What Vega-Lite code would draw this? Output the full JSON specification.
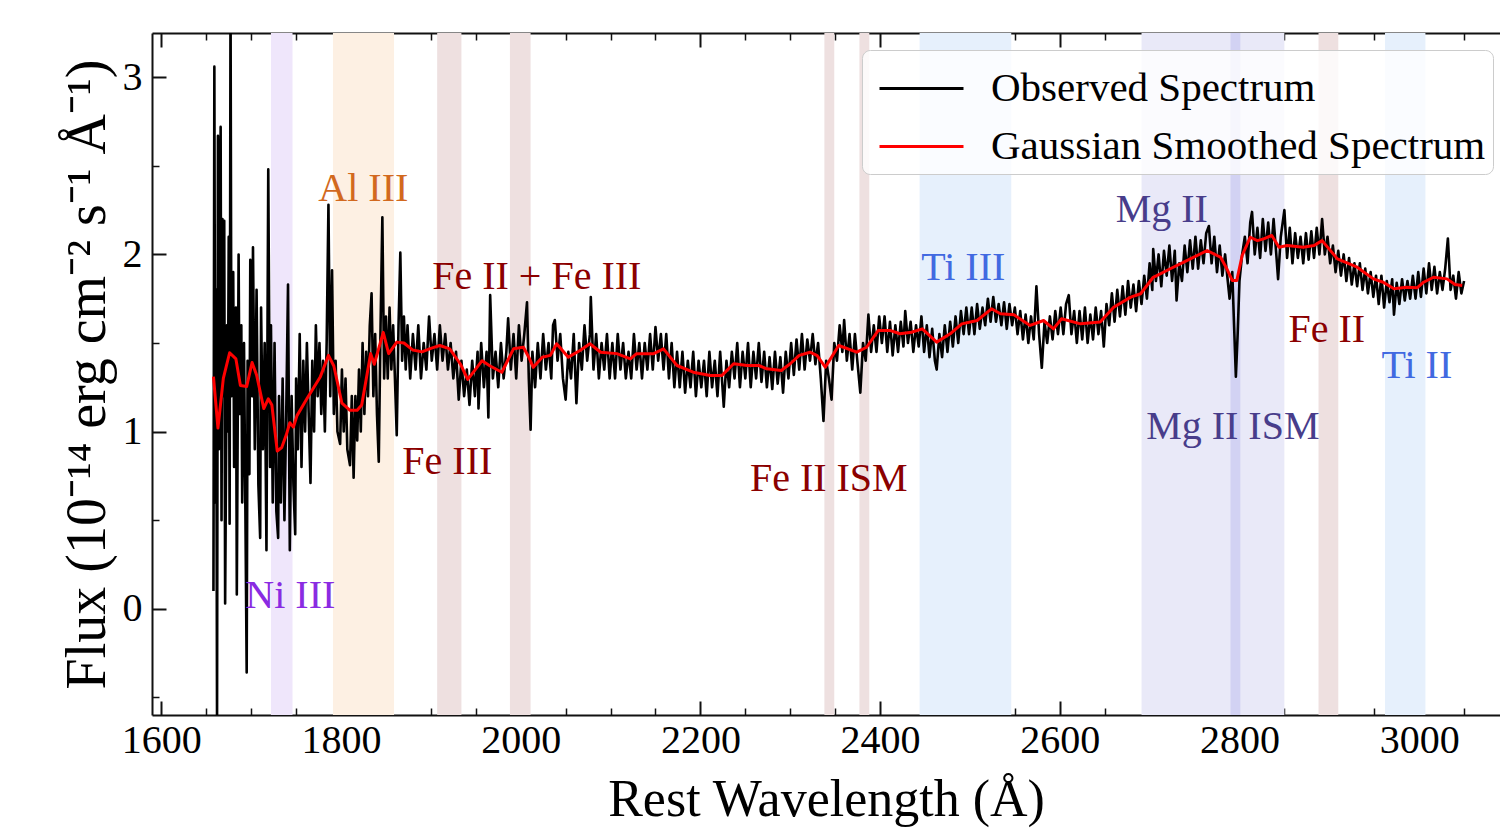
{
  "$schema": "https://vega.github.io/schema/vega-lite/v6.json",
  "width": 1348,
  "height": 682,
  "autosize": {"type": "none"},
  "padding": {"left": 152, "top": 33, "right": 0, "bottom": 116},
  "background": "white",
  "config": {
    "view": {"stroke": null},
    "font": "Liberation Serif",
    "axis": {"grid": false, "labelFont": "Liberation Serif", "titleFont": "Liberation Serif", "labelColor": "black", "titleColor": "black", "tickColor": "#111111", "domainColor": "#111111", "titleFontWeight": "normal"}
  },
  "datasets": {
    "bands": [
      {"line": "Ni III", "start": 1722, "end": 1746, "group": "Ni"},
      {"line": "Al III", "start": 1791, "end": 1859, "group": "Al"},
      {"line": "Fe III", "start": 1907, "end": 1934, "group": "Fe"},
      {"line": "Fe II + Fe III", "start": 1988, "end": 2011, "group": "Fe"},
      {"line": "Fe II ISM a", "start": 2338, "end": 2349, "group": "Fe"},
      {"line": "Fe II ISM b", "start": 2377, "end": 2388, "group": "Fe"},
      {"line": "Ti III", "start": 2444, "end": 2546, "group": "Ti"},
      {"line": "Mg II", "start": 2691, "end": 2850, "group": "Mg"},
      {"line": "Mg II ISM", "start": 2790, "end": 2801, "group": "MgISM"},
      {"line": "Fe II", "start": 2888, "end": 2910, "group": "Fe"},
      {"line": "Ti II", "start": 2962, "end": 3007, "group": "Ti"}
    ],
    "labels": [
      {"label": "Al III", "w": 1824.8, "f": 2.372, "group": "Al"},
      {"label": "Ni III", "w": 1743.6, "f": 0.069, "group": "Ni"},
      {"label": "Fe III", "w": 1918.3, "f": 0.826, "group": "Fe"},
      {"label": "Fe II + Fe III", "w": 2017.9, "f": 1.87, "group": "Fe"},
      {"label": "Fe II ISM", "w": 2342.9, "f": 0.73, "group": "Fe"},
      {"label": "Ti III", "w": 2492.6, "f": 1.923, "group": "Ti"},
      {"label": "Mg II", "w": 2713.6, "f": 2.253, "group": "Mg"},
      {"label": "Mg II ISM", "w": 2792.6, "f": 1.025, "group": "Mg"},
      {"label": "Fe II", "w": 2897.2, "f": 1.571, "group": "Fe"},
      {"label": "Ti II", "w": 2997.4, "f": 1.37, "group": "Ti"}
    ],
    "smooth": [
      {"w":1658,"f":1.31},{"w":1663,"f":1.02},{"w":1669,"f":1.3},{"w":1676,"f":1.445},{"w":1683,"f":1.41},{"w":1688,"f":1.26},{"w":1695,"f":1.255},{"w":1701,"f":1.39},{"w":1706,"f":1.32},{"w":1714,"f":1.13},{"w":1719,"f":1.185},{"w":1723,"f":1.15},{"w":1729,"f":0.89},{"w":1734,"f":0.91},{"w":1739,"f":0.98},{"w":1743,"f":1.05},{"w":1747,"f":1.025},{"w":1751,"f":1.09},{"w":1762,"f":1.185},{"w":1777,"f":1.31},{"w":1786,"f":1.43},{"w":1792,"f":1.37},{"w":1801,"f":1.16},{"w":1810,"f":1.12},{"w":1818,"f":1.12},{"w":1823,"f":1.15},{"w":1833,"f":1.44},{"w":1837,"f":1.38},{"w":1847,"f":1.56},{"w":1853,"f":1.44},{"w":1862,"f":1.505},{"w":1870,"f":1.5},{"w":1880,"f":1.46},{"w":1890,"f":1.45},{"w":1900,"f":1.47},{"w":1910,"f":1.486},{"w":1921,"f":1.467},{"w":1933,"f":1.38},{"w":1941,"f":1.295},{"w":1948,"f":1.34},{"w":1957,"f":1.4},{"w":1966,"f":1.37},{"w":1979,"f":1.335},{"w":1992,"f":1.467},{"w":2003,"f":1.476},{"w":2009,"f":1.42},{"w":2014,"f":1.363},{"w":2024,"f":1.42},{"w":2033,"f":1.43},{"w":2040,"f":1.496},{"w":2053,"f":1.42},{"w":2066,"f":1.458},{"w":2077,"f":1.496},{"w":2089,"f":1.448},{"w":2107,"f":1.44},{"w":2122,"f":1.41},{"w":2129,"f":1.44},{"w":2148,"f":1.44},{"w":2159,"f":1.467},{"w":2174,"f":1.373},{"w":2192,"f":1.335},{"w":2211,"f":1.317},{"w":2224,"f":1.317},{"w":2237,"f":1.383},{"w":2252,"f":1.373},{"w":2265,"f":1.373},{"w":2274,"f":1.354},{"w":2290,"f":1.345},{"w":2300,"f":1.383},{"w":2310,"f":1.43},{"w":2322,"f":1.448},{"w":2330,"f":1.429},{"w":2339,"f":1.363},{"w":2354,"f":1.486},{"w":2374,"f":1.448},{"w":2385,"f":1.476},{"w":2398,"f":1.571},{"w":2411,"f":1.571},{"w":2422,"f":1.552},{"w":2435,"f":1.561},{"w":2447,"f":1.58},{"w":2463,"f":1.505},{"w":2478,"f":1.552},{"w":2491,"f":1.608},{"w":2508,"f":1.627},{"w":2524,"f":1.693},{"w":2534,"f":1.665},{"w":2549,"f":1.659},{"w":2567,"f":1.599},{"w":2582,"f":1.627},{"w":2593,"f":1.58},{"w":2602,"f":1.637},{"w":2623,"f":1.608},{"w":2645,"f":1.618},{"w":2660,"f":1.702},{"w":2679,"f":1.759},{"w":2690,"f":1.778},{"w":2704,"f":1.871},{"w":2708,"f":1.88},{"w":2723,"f":1.919},{"w":2738,"f":1.956},{"w":2764,"f":2.022},{"w":2779,"f":1.984},{"w":2786,"f":1.919},{"w":2792,"f":1.853},{"w":2797,"f":1.853},{"w":2803,"f":1.994},{"w":2812,"f":2.097},{"w":2820,"f":2.078},{"w":2827,"f":2.088},{"w":2836,"f":2.107},{"w":2844,"f":2.041},{"w":2853,"f":2.05},{"w":2871,"f":2.041},{"w":2883,"f":2.05},{"w":2892,"f":2.078},{"w":2909,"f":1.975},{"w":2931,"f":1.928},{"w":2949,"f":1.862},{"w":2960,"f":1.843},{"w":2972,"f":1.806},{"w":2986,"f":1.815},{"w":2998,"f":1.812},{"w":3005,"f":1.843},{"w":3016,"f":1.871},{"w":3031,"f":1.862},{"w":3040,"f":1.83},{"w":3048,"f":1.825}
    ],
    "observed": [
      {"w":1658,"f":0.1},{"w":1659,"f":3.06},{"w":1660,"f":0.6},{"w":1661,"f":1.8},{"w":1662,"f":-0.65},{"w":1663,"f":2.67},{"w":1664,"f":0.9},{"w":1666,"f":2.72},{"w":1667,"f":0.5},{"w":1668,"f":2.2},{"w":1669,"f":1.2},{"w":1670,"f":2.19},{"w":1671,"f":0.03},{"w":1673,"f":1.6},{"w":1674,"f":1.0},{"w":1675,"f":2.1},{"w":1676,"f":0.48},{"w":1677,"f":3.5},{"w":1678,"f":1.2},{"w":1680,"f":1.9},{"w":1681,"f":0.8},{"w":1683,"f":1.7},{"w":1684,"f":0.08},{"w":1686,"f":2.0},{"w":1687,"f":1.1},{"w":1689,"f":1.6},{"w":1690,"f":0.6},{"w":1692,"f":1.5},{"w":1693,"f":0.9},{"w":1695,"f":-0.36},{"w":1696,"f":1.4},{"w":1698,"f":0.76},{"w":1699,"f":1.97},{"w":1701,"f":1.2},{"w":1702,"f":2.04},{"w":1704,"f":0.9},{"w":1706,"f":1.8},{"w":1708,"f":0.7},{"w":1710,"f":0.4},{"w":1711,"f":1.7},{"w":1713,"f":0.9},{"w":1715,"f":1.5},{"w":1717,"f":0.33},{"w":1719,"f":2.48},{"w":1721,"f":0.8},{"w":1722,"f":1.6},{"w":1724,"f":0.6},{"w":1726,"f":1.5},{"w":1728,"f":0.55},{"w":1730,"f":0.4},{"w":1731,"f":1.2},{"w":1733,"f":0.6},{"w":1735,"f":1.3},{"w":1737,"f":0.5},{"w":1739,"f":1.1},{"w":1741,"f":1.83},{"w":1743,"f":0.33},{"w":1745,"f":1.2},{"w":1747,"f":0.7},{"w":1749,"f":0.42},{"w":1750,"f":1.3},{"w":1752,"f":0.9},{"w":1754,"f":1.55},{"w":1756,"f":0.8},{"w":1758,"f":1.4},{"w":1760,"f":1.0},{"w":1762,"f":1.5},{"w":1764,"f":1.1},{"w":1766,"f":0.71},{"w":1768,"f":1.4},{"w":1770,"f":1.0},{"w":1772,"f":1.6},{"w":1774,"f":1.2},{"w":1776,"f":1.5},{"w":1778,"f":1.1},{"w":1780,"f":1.4},{"w":1782,"f":1.0},{"w":1784,"f":1.5},{"w":1786,"f":2.28},{"w":1788,"f":1.2},{"w":1790,"f":1.91},{"w":1792,"f":1.1},{"w":1794,"f":1.4},{"w":1796,"f":1.0},{"w":1799,"f":0.93},{"w":1801,"f":1.35},{"w":1803,"f":1.0},{"w":1805,"f":1.3},{"w":1807,"f":0.9},{"w":1810,"f":0.81},{"w":1812,"f":1.2},{"w":1814,"f":0.74},{"w":1816,"f":1.2},{"w":1818,"f":0.95},{"w":1820,"f":1.35},{"w":1822,"f":1.0},{"w":1824,"f":1.5},{"w":1826,"f":1.1},{"w":1828,"f":1.45},{"w":1830,"f":1.2},{"w":1832,"f":1.6},{"w":1834,"f":1.78},{"w":1836,"f":1.2},{"w":1838,"f":1.55},{"w":1840,"f":1.1},{"w":1842,"f":0.83},{"w":1844,"f":1.6},{"w":1846,"f":2.21},{"w":1848,"f":1.3},{"w":1850,"f":1.65},{"w":1852,"f":1.3},{"w":1854,"f":1.7},{"w":1856,"f":1.35},{"w":1858,"f":1.6},{"w":1860,"f":1.3},{"w":1862,"f":0.98},{"w":1864,"f":1.6},{"w":1866,"f":2.01},{"w":1868,"f":1.4},{"w":1870,"f":1.65},{"w":1872,"f":1.35},{"w":1874,"f":1.6},{"w":1877,"f":1.3},{"w":1880,"f":1.55},{"w":1883,"f":1.35},{"w":1886,"f":1.6},{"w":1889,"f":1.3},{"w":1892,"f":1.5},{"w":1895,"f":1.35},{"w":1898,"f":1.65},{"w":1901,"f":1.4},{"w":1904,"f":1.55},{"w":1907,"f":1.35},{"w":1910,"f":1.6},{"w":1913,"f":1.4},{"w":1916,"f":1.55},{"w":1919,"f":1.35},{"w":1922,"f":1.5},{"w":1925,"f":1.3},{"w":1928,"f":1.45},{"w":1931,"f":1.18},{"w":1934,"f":1.4},{"w":1937,"f":1.2},{"w":1940,"f":1.35},{"w":1943,"f":1.15},{"w":1946,"f":1.4},{"w":1949,"f":1.2},{"w":1952,"f":1.45},{"w":1953,"f":1.13},{"w":1956,"f":1.5},{"w":1959,"f":1.25},{"w":1962,"f":1.45},{"w":1964,"f":1.08},{"w":1966,"f":1.77},{"w":1969,"f":1.3},{"w":1972,"f":1.45},{"w":1975,"f":1.25},{"w":1978,"f":1.5},{"w":1981,"f":1.3},{"w":1984,"f":1.45},{"w":1986,"f":1.64},{"w":1989,"f":1.35},{"w":1992,"f":1.55},{"w":1995,"f":1.3},{"w":1998,"f":1.6},{"w":2001,"f":1.4},{"w":2004,"f":1.55},{"w":2007,"f":1.73},{"w":2009,"f":1.3},{"w":2011,"f":1.01},{"w":2013,"f":1.45},{"w":2016,"f":1.25},{"w":2019,"f":1.5},{"w":2022,"f":1.3},{"w":2025,"f":1.55},{"w":2028,"f":1.35},{"w":2031,"f":1.5},{"w":2034,"f":1.3},{"w":2036,"f":1.6},{"w":2038,"f":1.63},{"w":2041,"f":1.4},{"w":2044,"f":1.55},{"w":2047,"f":1.3},{"w":2050,"f":1.18},{"w":2053,"f":1.45},{"w":2056,"f":1.3},{"w":2059,"f":1.55},{"w":2062,"f":1.16},{"w":2065,"f":1.5},{"w":2068,"f":1.35},{"w":2071,"f":1.6},{"w":2074,"f":1.4},{"w":2077,"f":1.55},{"w":2078,"f":1.76},{"w":2081,"f":1.35},{"w":2084,"f":1.55},{"w":2087,"f":1.3},{"w":2090,"f":1.5},{"w":2093,"f":1.35},{"w":2096,"f":1.55},{"w":2099,"f":1.3},{"w":2102,"f":1.5},{"w":2105,"f":1.3},{"w":2108,"f":1.55},{"w":2111,"f":1.35},{"w":2114,"f":1.5},{"w":2117,"f":1.3},{"w":2120,"f":1.45},{"w":2123,"f":1.3},{"w":2126,"f":1.55},{"w":2129,"f":1.35},{"w":2132,"f":1.5},{"w":2135,"f":1.3},{"w":2138,"f":1.5},{"w":2141,"f":1.35},{"w":2144,"f":1.55},{"w":2147,"f":1.35},{"w":2150,"f":1.59},{"w":2153,"f":1.4},{"w":2156,"f":1.55},{"w":2159,"f":1.35},{"w":2162,"f":1.55},{"w":2165,"f":1.3},{"w":2168,"f":1.5},{"w":2171,"f":1.25},{"w":2174,"f":1.45},{"w":2177,"f":1.25},{"w":2180,"f":1.45},{"w":2183,"f":1.22},{"w":2186,"f":1.4},{"w":2189,"f":1.25},{"w":2192,"f":1.45},{"w":2195,"f":1.2},{"w":2198,"f":1.4},{"w":2201,"f":1.25},{"w":2204,"f":1.4},{"w":2207,"f":1.2},{"w":2210,"f":1.45},{"w":2213,"f":1.25},{"w":2216,"f":1.4},{"w":2219,"f":1.2},{"w":2222,"f":1.45},{"w":2226,"f":1.14},{"w":2229,"f":1.4},{"w":2232,"f":1.25},{"w":2235,"f":1.45},{"w":2238,"f":1.3},{"w":2241,"f":1.5},{"w":2244,"f":1.25},{"w":2247,"f":1.45},{"w":2250,"f":1.3},{"w":2253,"f":1.5},{"w":2256,"f":1.25},{"w":2259,"f":1.45},{"w":2262,"f":1.3},{"w":2265,"f":1.5},{"w":2268,"f":1.28},{"w":2271,"f":1.45},{"w":2274,"f":1.25},{"w":2277,"f":1.42},{"w":2280,"f":1.24},{"w":2283,"f":1.45},{"w":2286,"f":1.27},{"w":2289,"f":1.42},{"w":2292,"f":1.22},{"w":2295,"f":1.45},{"w":2298,"f":1.3},{"w":2301,"f":1.5},{"w":2304,"f":1.32},{"w":2307,"f":1.52},{"w":2310,"f":1.35},{"w":2313,"f":1.55},{"w":2316,"f":1.35},{"w":2319,"f":1.52},{"w":2322,"f":1.4},{"w":2325,"f":1.55},{"w":2328,"f":1.38},{"w":2331,"f":1.5},{"w":2334,"f":1.3},{"w":2337,"f":1.06},{"w":2340,"f":1.4},{"w":2343,"f":1.3},{"w":2346,"f":1.18},{"w":2349,"f":1.5},{"w":2352,"f":1.4},{"w":2355,"f":1.6},{"w":2358,"f":1.45},{"w":2360,"f":1.63},{"w":2363,"f":1.4},{"w":2366,"f":1.55},{"w":2369,"f":1.35},{"w":2372,"f":1.55},{"w":2375,"f":1.38},{"w":2378,"f":1.22},{"w":2381,"f":1.5},{"w":2384,"f":1.4},{"w":2387,"f":1.66},{"w":2390,"f":1.45},{"w":2393,"f":1.6},{"w":2396,"f":1.45},{"w":2399,"f":1.65},{"w":2402,"f":1.5},{"w":2405,"f":1.65},{"w":2408,"f":1.45},{"w":2411,"f":1.62},{"w":2414,"f":1.43},{"w":2417,"f":1.6},{"w":2420,"f":1.45},{"w":2423,"f":1.62},{"w":2426,"f":1.48},{"w":2428,"f":1.68},{"w":2431,"f":1.5},{"w":2434,"f":1.62},{"w":2437,"f":1.45},{"w":2440,"f":1.6},{"w":2443,"f":1.48},{"w":2446,"f":1.65},{"w":2449,"f":1.45},{"w":2452,"f":1.6},{"w":2455,"f":1.42},{"w":2458,"f":1.58},{"w":2461,"f":1.4},{"w":2463,"f":1.35},{"w":2466,"f":1.55},{"w":2469,"f":1.42},{"w":2472,"f":1.6},{"w":2475,"f":1.45},{"w":2478,"f":1.62},{"w":2481,"f":1.48},{"w":2484,"f":1.65},{"w":2487,"f":1.5},{"w":2490,"f":1.68},{"w":2493,"f":1.55},{"w":2496,"f":1.7},{"w":2499,"f":1.55},{"w":2502,"f":1.7},{"w":2505,"f":1.55},{"w":2508,"f":1.72},{"w":2511,"f":1.58},{"w":2514,"f":1.7},{"w":2517,"f":1.6},{"w":2520,"f":1.75},{"w":2523,"f":1.62},{"w":2526,"f":1.76},{"w":2529,"f":1.62},{"w":2532,"f":1.72},{"w":2535,"f":1.6},{"w":2538,"f":1.73},{"w":2541,"f":1.58},{"w":2544,"f":1.72},{"w":2547,"f":1.6},{"w":2550,"f":1.7},{"w":2553,"f":1.55},{"w":2556,"f":1.68},{"w":2559,"f":1.52},{"w":2562,"f":1.66},{"w":2565,"f":1.5},{"w":2568,"f":1.65},{"w":2571,"f":1.52},{"w":2574,"f":1.82},{"w":2577,"f":1.55},{"w":2580,"f":1.36},{"w":2583,"f":1.62},{"w":2586,"f":1.5},{"w":2589,"f":1.65},{"w":2592,"f":1.52},{"w":2595,"f":1.68},{"w":2598,"f":1.55},{"w":2601,"f":1.7},{"w":2604,"f":1.55},{"w":2607,"f":1.72},{"w":2610,"f":1.77},{"w":2613,"f":1.55},{"w":2616,"f":1.68},{"w":2619,"f":1.5},{"w":2622,"f":1.68},{"w":2625,"f":1.52},{"w":2628,"f":1.7},{"w":2631,"f":1.5},{"w":2634,"f":1.66},{"w":2637,"f":1.52},{"w":2640,"f":1.7},{"w":2643,"f":1.55},{"w":2646,"f":1.68},{"w":2649,"f":1.48},{"w":2652,"f":1.72},{"w":2655,"f":1.6},{"w":2658,"f":1.78},{"w":2661,"f":1.62},{"w":2664,"f":1.8},{"w":2667,"f":1.65},{"w":2670,"f":1.82},{"w":2673,"f":1.66},{"w":2676,"f":1.85},{"w":2679,"f":1.7},{"w":2682,"f":1.83},{"w":2685,"f":1.68},{"w":2688,"f":1.85},{"w":2691,"f":1.72},{"w":2694,"f":1.88},{"w":2697,"f":1.75},{"w":2700,"f":1.95},{"w":2703,"f":1.8},{"w":2704,"f":2.03},{"w":2707,"f":1.85},{"w":2710,"f":2.0},{"w":2713,"f":1.82},{"w":2716,"f":2.02},{"w":2719,"f":1.88},{"w":2722,"f":2.05},{"w":2725,"f":1.85},{"w":2728,"f":2.02},{"w":2730,"f":1.74},{"w":2733,"f":1.95},{"w":2736,"f":1.85},{"w":2739,"f":2.05},{"w":2742,"f":1.9},{"w":2745,"f":2.08},{"w":2748,"f":1.92},{"w":2751,"f":2.1},{"w":2754,"f":1.92},{"w":2757,"f":2.08},{"w":2760,"f":1.95},{"w":2763,"f":2.12},{"w":2766,"f":2.16},{"w":2769,"f":1.95},{"w":2772,"f":2.1},{"w":2775,"f":1.9},{"w":2778,"f":2.05},{"w":2781,"f":1.88},{"w":2784,"f":2.0},{"w":2787,"f":1.85},{"w":2789,"f":1.75},{"w":2792,"f":1.9},{"w":2794,"f":1.6},{"w":2796,"f":1.31},{"w":2798,"f":1.55},{"w":2800,"f":1.85},{"w":2803,"f":2.0},{"w":2806,"f":2.1},{"w":2809,"f":1.95},{"w":2812,"f":2.18},{"w":2814,"f":2.24},{"w":2817,"f":2.0},{"w":2820,"f":2.15},{"w":2823,"f":1.98},{"w":2826,"f":2.2},{"w":2829,"f":2.02},{"w":2832,"f":2.18},{"w":2835,"f":2.0},{"w":2838,"f":2.2},{"w":2841,"f":2.0},{"w":2843,"f":1.86},{"w":2846,"f":2.1},{"w":2850,"f":2.25},{"w":2853,"f":1.98},{"w":2856,"f":2.15},{"w":2859,"f":1.95},{"w":2862,"f":2.12},{"w":2865,"f":1.98},{"w":2868,"f":2.1},{"w":2871,"f":1.95},{"w":2874,"f":2.12},{"w":2877,"f":1.97},{"w":2880,"f":2.13},{"w":2883,"f":1.98},{"w":2886,"f":2.15},{"w":2889,"f":2.0},{"w":2892,"f":2.2},{"w":2895,"f":2.0},{"w":2898,"f":2.1},{"w":2901,"f":1.95},{"w":2904,"f":2.05},{"w":2907,"f":1.9},{"w":2910,"f":2.02},{"w":2913,"f":1.88},{"w":2916,"f":2.0},{"w":2919,"f":1.85},{"w":2922,"f":1.98},{"w":2925,"f":1.83},{"w":2928,"f":1.95},{"w":2931,"f":1.82},{"w":2934,"f":1.95},{"w":2937,"f":1.8},{"w":2940,"f":1.92},{"w":2943,"f":1.78},{"w":2946,"f":1.9},{"w":2949,"f":1.76},{"w":2952,"f":1.88},{"w":2955,"f":1.72},{"w":2958,"f":1.88},{"w":2961,"f":1.7},{"w":2964,"f":1.85},{"w":2967,"f":1.73},{"w":2970,"f":1.86},{"w":2972,"f":1.66},{"w":2975,"f":1.84},{"w":2978,"f":1.72},{"w":2981,"f":1.86},{"w":2984,"f":1.74},{"w":2987,"f":1.85},{"w":2990,"f":1.75},{"w":2993,"f":1.88},{"w":2996,"f":1.75},{"w":2999,"f":1.9},{"w":3002,"f":1.76},{"w":3005,"f":1.92},{"w":3008,"f":1.78},{"w":3011,"f":1.95},{"w":3014,"f":1.8},{"w":3017,"f":1.93},{"w":3020,"f":1.78},{"w":3023,"f":1.9},{"w":3026,"f":1.8},{"w":3029,"f":1.92},{"w":3032,"f":2.09},{"w":3035,"f":1.8},{"w":3038,"f":1.88},{"w":3041,"f":1.75},{"w":3044,"f":1.9},{"w":3047,"f":1.78},{"w":3050,"f":1.85}
    ]
  },
  "layer": [
    {
      "data": {"name": "bands"},
      "mark": {"type": "rect"},
      "encoding": {
        "x": {"field": "start", "type": "quantitative",
              "scale": {"domain": [1589.6, 3090], "nice": false, "zero": false},
              "axis": {"orient": "bottom", "values": [1600,1800,2000,2200,2400,2600,2800,3000], "format": "d", "tickSize": -14, "tickWidth": 2, "labelFontSize": 40, "labelPadding": 19, "domain": true, "domainWidth": 2, "title": "Rest Wavelength (Å)", "titleFontSize": 52, "titlePadding": 14}},
        "x2": {"field": "end"},
        "fill": {"field": "group", "type": "nominal",
                 "scale": {"domain": ["Ni","Al","Fe","Ti","Mg","MgISM"], "range": ["#efe6fb","#fdf0e3","#eee0e0","#e6f0fc","#e9e9f8","#d2d2f3"]},
                 "legend": null}
      }
    },
    {
      "data": {"name": "observed"},
      "mark": {"type": "line", "strokeWidth": 2.6, "clip": true, "strokeJoin": "round"},
      "encoding": {
        "x": {"field": "w", "type": "quantitative",
              "axis": {"orient": "bottom", "values": [1650,1700,1750,1850,1900,1950,2050,2100,2150,2250,2300,2350,2450,2500,2550,2650,2700,2750,2850,2900,2950,3050], "tickSize": -7, "tickWidth": 1.5, "labels": false, "domain": false, "title": null}},
        "y": {"field": "f", "type": "quantitative",
              "scale": {"domain": [-0.6, 3.25], "nice": false, "zero": false},
              "axis": {"orient": "left", "values": [0,1,2,3], "tickSize": -14, "tickWidth": 2, "labelFontSize": 40, "labelPadding": 24, "domain": true, "domainWidth": 2, "title": "Flux (10⁻¹⁴ erg cm⁻² s⁻¹ Å⁻¹)", "titleFontSize": 56, "titlePadding": 6}},
        "stroke": {"datum": "Observed Spectrum", "type": "nominal",
                   "scale": {"domain": ["Observed Spectrum", "Gaussian Smoothed Spectrum"], "range": ["#000000", "#ff0000"]},
                   "legend": {"orient": "none", "legendX": 710, "legendY": 17, "title": null, "symbolType": "M-1.4,0H1.4", "symbolFillColor": "transparent", "symbolSize": 3600, "symbolOffset": 21, "symbolStrokeWidth": 3, "labelFont": "Liberation Serif", "labelFontSize": 41, "labelColor": "black", "labelLimit": 800, "labelOffset": 38, "rowPadding": 6, "padding": 7, "fillColor": "rgba(255,255,255,0.8)", "strokeColor": "#cccccc", "cornerRadius": 8}}
      }
    },
    {
      "data": {"name": "smooth"},
      "mark": {"type": "line", "strokeWidth": 3, "strokeJoin": "round"},
      "encoding": {
        "x": {"field": "w", "type": "quantitative",
              "axis": {"orient": "top", "values": [1600,1800,2000,2200,2400,2600,2800,3000], "tickSize": -14, "tickWidth": 2, "labels": false, "domain": true, "domainWidth": 2, "title": null}},
        "y": {"field": "f", "type": "quantitative",
              "axis": {"orient": "left", "values": [-0.5,0.5,1.5,2.5], "tickSize": -7, "tickWidth": 1.5, "labels": false, "domain": false, "title": null}},
        "stroke": {"datum": "Gaussian Smoothed Spectrum", "type": "nominal"}
      }
    },
    {
      "data": {"name": "labels"},
      "mark": {"type": "text", "font": "Liberation Serif", "fontSize": 40, "align": "center", "baseline": "middle"},
      "encoding": {
        "x": {"field": "w", "type": "quantitative",
              "axis": {"orient": "top", "values": [1650,1700,1750,1850,1900,1950,2050,2100,2150,2250,2300,2350,2450,2500,2550,2650,2700,2750,2850,2900,2950,3050], "tickSize": -7, "tickWidth": 1.5, "labels": false, "domain": false, "title": null}},
        "y": {"field": "f", "type": "quantitative", "axis": null},
        "text": {"field": "label"},
        "color": {"field": "group", "type": "nominal",
                  "scale": {"domain": ["Ni","Al","Fe","Ti","Mg"], "range": ["#8a2be2","#d2691e","#8b0000","#4169e1","#483d8b"]},
                  "legend": null}
      }
    }
  ],
  "resolve": {"axis": {"x": "independent", "y": "independent"}}
}
